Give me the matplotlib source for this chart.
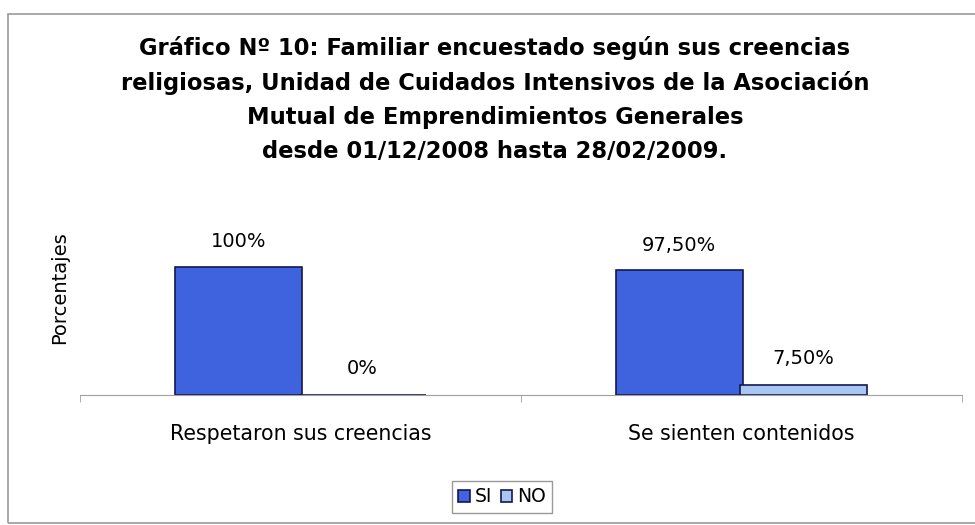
import matplotlib.pyplot as plt
from matplotlib.patches import Rectangle

plt.rcParams['font.family'] = ['DejaVu Sans']

# Data
categories = ['Respetaron sus creencias', 'Se sienten contenidos']
si_values = [100, 97.5]
no_values = [0, 7.5]
si_labels = ['100%', '97,50%']
no_labels = ['0%', '7,50%']
title = ('Gráfico Nº 10: Familiar encuestado según sus creencias\n'
         'religiosas, Unidad de Cuidados Intensivos de la Asociación\n'
         'Mutual de Emprendimientos Generales\n'
         'desde 01/12/2008 hasta 28/02/2009.')

fig = plt.figure(figsize=(9.75, 5.25), dpi=100)
W, H = 975, 525

# outer frame of the chart
fig.patches.append(Rectangle((8 / W, 2 / H), 1.2, 509 / H, transform=fig.transFigure,
                             fill=False, edgecolor='#9a9a9a', linewidth=1.2))

ax = fig.add_axes([80 / W, (H - 395) / H, 882 / W, 141 / H])

x = [0, 1]
w = 0.288
off = 0.141
ax.bar([i - off for i in x], si_values, width=w, color='#3f63df',
       edgecolor='#141850', linewidth=1.2, label='SI')
ax.bar([i + off for i in x], no_values, width=w, color='#a9c6f2',
       edgecolor='#141850', linewidth=1.2, label='NO')

for i in x:
    ax.annotate(si_labels[i], (i - off, si_values[i]), xytext=(0, 18),
                textcoords='offset points', ha='center', va='center', fontsize=14)
    ax.annotate(no_labels[i], (i + off, no_values[i]), xytext=(0, 19),
                textcoords='offset points', ha='center', va='center', fontsize=14)

ax.set_xlim(-0.5, 1.5)
ax.set_ylim(0, 110)
for s in ['top', 'right', 'left']:
    ax.spines[s].set_visible(False)
ax.spines['bottom'].set_color('#a0a0a0')
ax.set_yticks([])
ax.set_xticks(x)
ax.set_xticklabels(categories, fontsize=14.8)
ax.tick_params(axis='x', length=0, pad=21)
ax.set_xticks([-0.5, 0.5, 1.5], minor=True)
ax.tick_params(axis='x', which='minor', length=5, color='#a0a0a0')

fig.text(60 / W, 1 - 288 / H, 'Porcentajes', rotation=90, ha='center', va='center', fontsize=14)
fig.text(495 / W, 1 - 99 / H, title, ha='center', va='center', fontsize=16.3,
         fontweight='bold', linespacing=1.6)

leg = ax.legend(loc='center', bbox_to_anchor=(502 / W, 1 - 497 / H),
                bbox_transform=fig.transFigure, ncol=2, fontsize=13.5, frameon=True,
                fancybox=False, edgecolor='#808080', handlelength=0.6, handleheight=0.6,
                handletextpad=0.25, columnspacing=0.5, borderpad=0.35)
leg.get_frame().set_linewidth(1.0)

fig.savefig('out.png', dpi=100)
